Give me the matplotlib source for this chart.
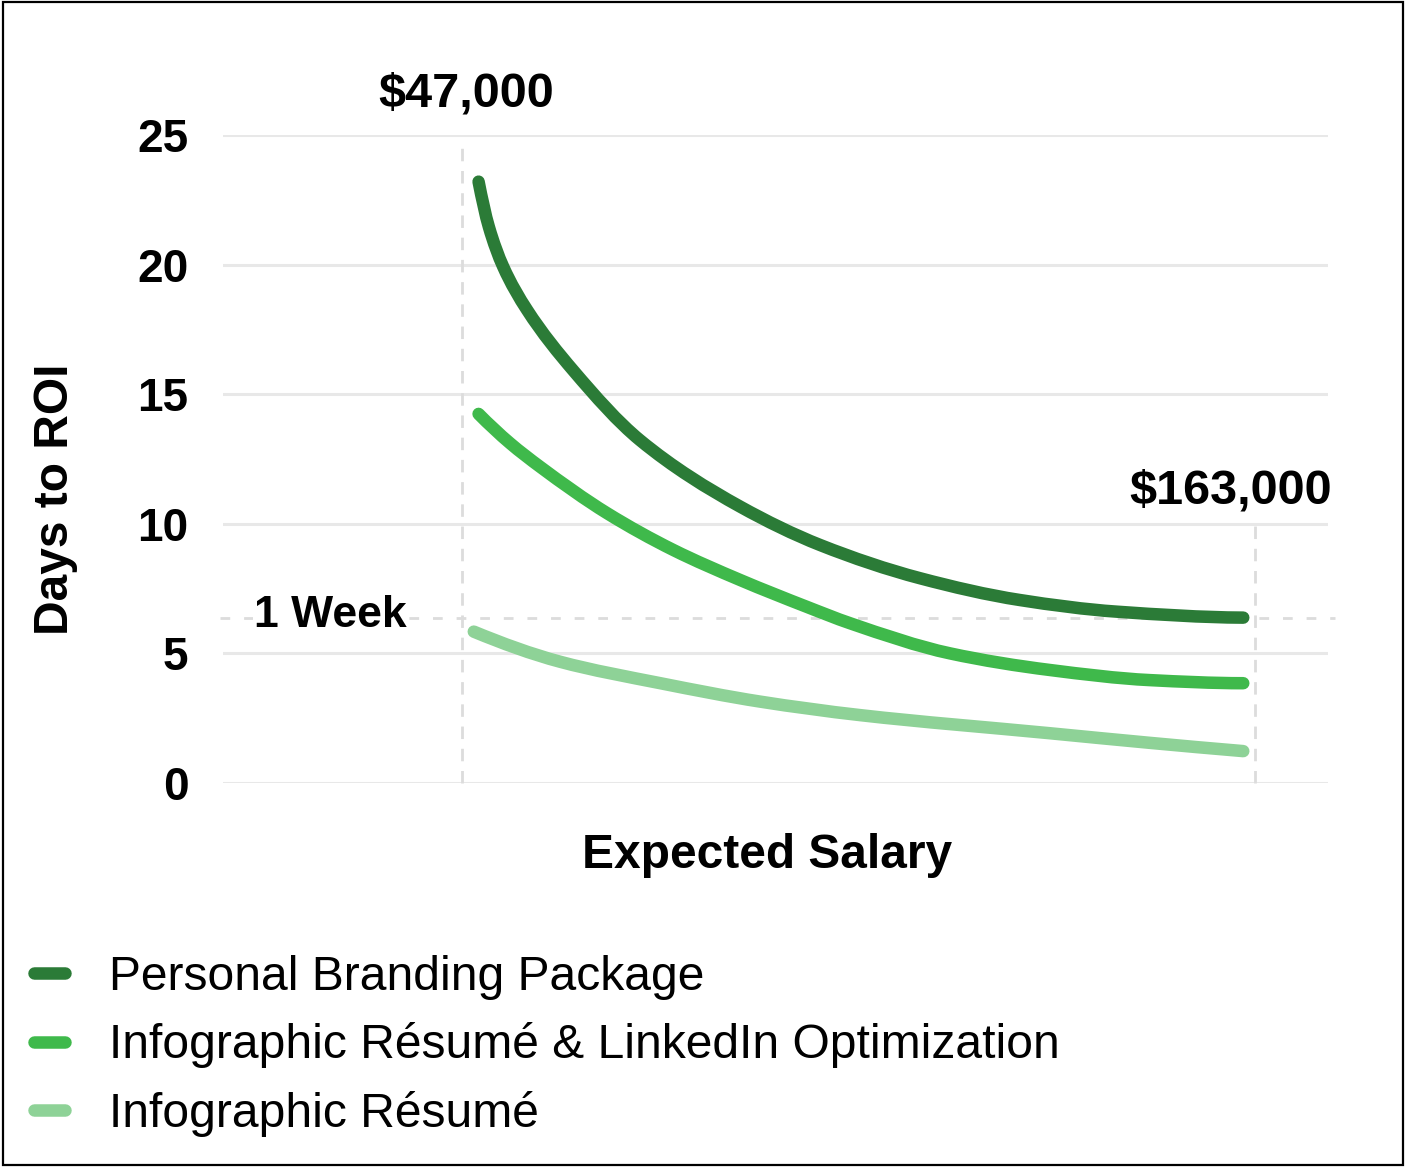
import matplotlib
matplotlib.use("Agg")
import matplotlib.pyplot as plt
from matplotlib.patches import Rectangle, PathPatch
from matplotlib.path import Path
from matplotlib.lines import Line2D

plt.rcParams['font.family'] = ['Liberation Sans', 'DejaVu Sans']

# salary in thousands of dollars, days to ROI
salary_pbp = [49.4, 50.9, 53.0, 56.5, 63.3, 73.0, 87.7, 99.4, 114.0, 128.6, 142.8, 161.3]
days_pbp = [23.20, 21.46, 19.92, 18.25, 15.90, 13.23, 10.66, 9.18, 7.90, 7.06, 6.61, 6.38]

salary_irl = [49.4, 54.0, 58.4, 68.2, 77.9, 87.7, 97.4, 103.8, 118.4, 133.0, 147.6, 161.3]
days_irl = [14.24, 13.11, 12.20, 10.41, 8.99, 7.83, 6.80, 6.16, 5.00, 4.36, 3.97, 3.85]

salary_ir = [48.7, 61.3, 76.0, 90.6, 105.2, 133.0, 147.6, 161.3]
days_ir = [5.84, 4.68, 3.85, 3.14, 2.62, 1.92, 1.55, 1.23]

series_names = ["Personal Branding Package",
                "Infographic Résumé & LinkedIn Optimization",
                "Infographic Résumé"]
series_colors = ["#2b7b37", "#3fb94b", "#8ed297"]

salary_low, salary_high = 47, 163
week_line = 6.37
yticks = [0, 5, 10, 15, 20, 25]


def pchip_slopes(xs, ys):
    n = len(xs)
    h = [xs[i + 1] - xs[i] for i in range(n - 1)]
    d = [(ys[i + 1] - ys[i]) / h[i] for i in range(n - 1)]
    m = [0.0] * n
    for k in range(1, n - 1):
        if d[k - 1] * d[k] <= 0:
            m[k] = 0.0
        else:
            w1 = 2 * h[k] + h[k - 1]
            w2 = h[k] + 2 * h[k - 1]
            m[k] = (w1 + w2) / (w1 / d[k - 1] + w2 / d[k])
    # end slopes, three point estimate
    def end(h0, h1, d0, d1):
        s = ((2 * h0 + h1) * d0 - h0 * d1) / (h0 + h1)
        if s * d0 <= 0:
            return 0.0
        if d0 * d1 <= 0 and abs(s) > abs(3 * d0):
            return 3 * d0
        return s
    m[0] = end(h[0], h[1], d[0], d[1])
    m[-1] = end(h[-1], h[-2], d[-1], d[-2])
    return m


def smooth_path(xs, ys):
    # monotone cubic through the read points, drawn as Bezier segments
    m = pchip_slopes(xs, ys)
    verts = [(xs[0], ys[0])]
    codes = [Path.MOVETO]
    for i in range(len(xs) - 1):
        h = xs[i + 1] - xs[i]
        verts += [(xs[i] + h / 3, ys[i] + m[i] * h / 3),
                  (xs[i + 1] - h / 3, ys[i + 1] - m[i + 1] * h / 3),
                  (xs[i + 1], ys[i + 1])]
        codes += [Path.CURVE4] * 3
    return Path(verts, codes)


fig = plt.figure(figsize=(14.06, 11.67), dpi=100)
ax = fig.add_axes([223 / 1406, 1 - 783 / 1167, 1105 / 1406, 648 / 1167])
ax.set_xlim(12.0, 173.7)
ax.set_ylim(0, 25)

# grid
for t in yticks:
    ax.axhline(t, color="#e8e8e8", lw=2.2, zorder=0)

grey = "#dcdcdc"
ax.plot([salary_low, salary_low], [0, 24.8], color=grey, lw=2, ls=(0, (4.5, 3.5)), zorder=1, clip_on=False)
ax.plot([salary_high, salary_high], [0, 9.9], color=grey, lw=2, ls=(0, (4.5, 3.5)), zorder=1, clip_on=False)
ax.plot([11.6, 174.7], [week_line, week_line], color=grey, lw=2, ls=(0, (3.5, 5)), zorder=1, clip_on=False)

handles = []
for xs, ys, name, col in zip([salary_pbp, salary_irl, salary_ir],
                             [days_pbp, days_irl, days_ir],
                             series_names, series_colors):
    patch = PathPatch(smooth_path(xs, ys), facecolor="none", edgecolor=col,
                      lw=9, capstyle="round", joinstyle="round", zorder=3,
                      clip_on=False)
    ax.add_patch(patch)
    handles.append(Line2D([], [], color=col, lw=9, solid_capstyle="round", label=name))

ax.text(47.6, 26.6, "$47,000", ha="center", va="center",
        fontsize=35, fontweight="bold")
ax.text(159.5, 11.25, "$163,000", ha="center", va="center",
        fontsize=35, fontweight="bold")
ax.text(27.7, 6.45, "1 Week", ha="center", va="center", fontsize=32,
        fontweight="bold", zorder=2,
        bbox=dict(facecolor="white", edgecolor="none", pad=1))

ax.set_yticks(yticks)
ax.set_yticklabels([str(t) for t in yticks], fontsize=33, fontweight="bold")
ax.tick_params(axis="y", length=0, pad=25)
ax.set_xticks([])
for s in ax.spines.values():
    s.set_visible(False)

ax.set_xlabel("Expected Salary", fontsize=34.5, fontweight="bold")
ax.xaxis.set_label_coords(0.4923, -0.077)
fig.text(55 / 1406, 1 - 499 / 1167, "Days to ROI", rotation=90,
         ha="center", va="center", fontsize=34.5, fontweight="bold")

fig.legend(handles=handles, loc="center left",
           bbox_to_anchor=(34 / 1406, 1 - 1046 / 1167),
           frameon=False, fontsize=34.6, handlelength=0.65,
           handletextpad=0.92, labelspacing=0.47, borderpad=0,
           borderaxespad=0)

fig.patches.append(Rectangle((0.002, 0.002), 0.996, 0.996, transform=fig.transFigure,
                             fill=False, edgecolor="black", lw=1.6))

fig.savefig("out.png", dpi=100, facecolor="white")
